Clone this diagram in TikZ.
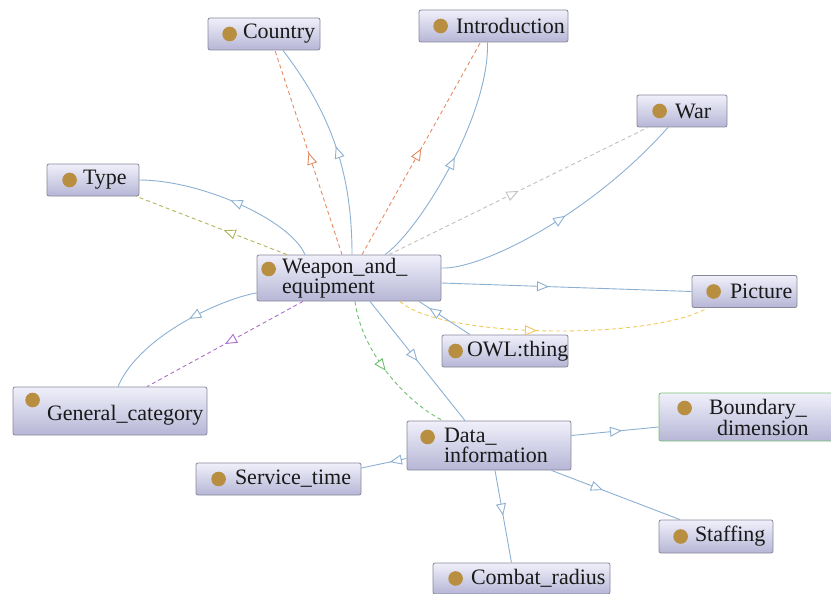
\documentclass[tikz,border=0pt]{standalone}
\usepackage{fontspec}
\setmainfont{Liberation Serif}
\usetikzlibrary{arrows.meta,decorations.markings}
\definecolor{eb}{RGB}{140,176,210}
\definecolor{eo}{RGB}{226,140,100}
\definecolor{egray}{RGB}{192,192,192}
\definecolor{eolive}{RGB}{180,180,90}
\definecolor{eyel}{RGB}{240,200,90}
\definecolor{epur}{RGB}{170,110,200}
\definecolor{egreen}{RGB}{110,190,110}
\definecolor{ntop}{RGB}{240,240,251}
\definecolor{nbot}{RGB}{182,182,214}
\definecolor{nborder}{RGB}{135,135,152}
\definecolor{gborder}{RGB}{120,192,120}
\definecolor{bul}{RGB}{184,143,64}
\begin{document}
\begin{tikzpicture}[x=1pt,y=-1pt,
  box/.style={draw=nborder, line width=0.8pt, rounded corners=2pt, top color=ntop, bottom color=nbot,
    inner sep=0pt, align=left, font=\rmfamily\fontsize{22}{20}\selectfont, text=black!90},
  gbox/.style={box, draw=gborder},
  edge/.style={line width=0.9pt},
  dsh/.style={dash pattern=on 4pt off 3pt},
  arr/.style={postaction={decorate,decoration={markings,
     mark=at position #1 with {\arrow{Triangle[fill=white,length=12pt,width=10pt,line width=0.9pt]}}}}},
  bullet/.style={fill=bul}
]
\useasboundingbox (0,0) rectangle (831,594);

% nodes
\node[box, text width=112pt, minimum height=32pt] (C) at (264,34) {\hspace*{35pt}Country};
\node[box, text width=149pt, minimum height=32pt] (I) at (493.5,26) {\hspace*{37pt}Introduction};
\node[box, text width=90pt, minimum height=32pt] (Wa) at (682,111) {\hspace*{38pt}War};
\node[box, text width=92pt, minimum height=32pt] (T) at (93,180) {\hspace*{36pt}Type};
\node[box, text width=184pt, minimum height=46pt] (W) at (349,278) {\hspace*{25pt}Weapon\_and\_\\\hspace*{25pt}equipment};
\node[box, text width=105pt, minimum height=32pt] (P) at (744.5,291.5) {\hspace*{38pt}Picture};
\node[box, text width=126pt, minimum height=32pt] (O) at (505,351) {\hspace*{25pt}OWL:thing};
\node[box, text width=194pt, minimum height=48pt, text height=23pt, text depth=5pt] (G) at (110,411) {\hspace*{34pt}General\_category};
\node[gbox, text width=175pt, minimum height=48pt] (B) at (746.5,417) {\hspace*{50pt}Boundary\_\\\hspace*{58pt}dimension};
\node[box, text width=164pt, minimum height=49pt] (D) at (489,445.5) {\hspace*{37pt}Data\_\\\hspace*{37pt}information};
\node[box, text width=165pt, minimum height=32pt] (S) at (278.5,479) {\hspace*{39pt}Service\_time};
\node[box, text width=114pt, minimum height=33pt] (St) at (716,536.5) {\hspace*{36pt}Staffing};
\node[box, text width=177pt, minimum height=31pt] (Cb) at (521.5,578.5) {\hspace*{38pt}Combat\_radius};

% bullets
\fill[bullet] ([xshift=22pt]C.west) circle[radius=7.3pt];
\fill[bullet] ([xshift=22pt]I.west) circle[radius=7.3pt];
\fill[bullet] ([xshift=23pt]Wa.west) circle[radius=7.3pt];
\fill[bullet] ([xshift=23pt]T.west) circle[radius=7.3pt];
\fill[bullet] ([xshift=12pt,yshift=9pt]W.west) circle[radius=7.3pt];
\fill[bullet] ([xshift=22pt]P.west) circle[radius=7.3pt];
\fill[bullet] ([xshift=14pt]O.west) circle[radius=7.3pt];
\fill[bullet] ([xshift=20pt,yshift=11pt]G.west) circle[radius=7.3pt];
\fill[bullet] ([xshift=26pt,yshift=9pt]B.west) circle[radius=7.3pt];
\fill[bullet] ([xshift=21pt,yshift=8.5pt]D.west) circle[radius=7.3pt];
\fill[bullet] ([xshift=23pt]S.west) circle[radius=7.3pt];
\fill[bullet] ([xshift=22pt]St.west) circle[radius=7.3pt];
\fill[bullet] ([xshift=23pt]Cb.west) circle[radius=7.3pt];

% edges from Weapon_and_equipment
\draw[edge, eb, arr=0.5] ([xshift=3pt]W.north) .. controls +(0,-75) and +(52,68) .. ([xshift=19pt]C.south);
\draw[edge, eo, dsh, arr=0.5] ([xshift=-7pt]W.north) -- ([xshift=11pt]C.south);
\draw[edge, eo, dsh, arr=0.5] ([xshift=13pt]W.north) -- ([xshift=-13pt]I.south);
\draw[edge, eb, arr=0.5] ([xshift=36pt]W.north) .. controls +(35,-25) and +(2,73) .. ([xshift=-6pt]I.south);
\draw[edge, egray, dsh, arr=0.5] ([xshift=40pt]W.north) -- ([xshift=-34pt]Wa.south);
\draw[edge, eb, arr=0.5] ([yshift=10pt]W.east) .. controls +(39,2) and +(-78,88) .. ([xshift=-14pt]Wa.south);
\draw[edge, eb, arr=0.5] ([xshift=-44pt]W.north) .. controls +(-15,-35) and +(61,0) .. (T.east);
\draw[edge, eolive, dsh, arr=0.42] ([xshift=-62pt]W.north) -- ([xshift=-3pt]T.south east);
\draw[edge, eb, arr=0.43] ([yshift=-5pt]W.east) -- (P.west);
\draw[edge, eyel, dsh, arr=0.45] ([xshift=51pt]W.south) .. controls +(40,37) and +(-57,33) .. ([xshift=-37pt]P.south);
\draw[edge, eb, arr=0.8] ([xshift=-35pt]O.north) -- ([xshift=70pt]W.south);
\draw[edge, eb, arr=0.42] ([yshift=-15pt]W.west) .. controls +(-32,5) and +(22,-52) .. ([xshift=8pt]G.north);
\draw[edge, epur, dsh, arr=0.5] ([xshift=-46pt]W.south) -- ([xshift=37pt]G.north);
\draw[edge, egreen, dsh, arr=0.5] ([xshift=6pt]W.south) .. controls +(7,54) and +(-33,-16) .. ([xshift=-46pt]D.north);
\draw[edge, eb, arr=0.5] ([xshift=21pt]W.south) -- ([xshift=-24pt]D.north);

% edges from Data_information
\draw[edge, eb, arr=0.58] ([yshift=10pt]D.east) -- ([yshift=-10pt]B.west);
\draw[edge, eb, arr=0.37] ([yshift=-13pt]D.west) -- ([yshift=11pt]S.east);
\draw[edge, eb, arr=0.49] ([xshift=6pt]D.south) -- ([xshift=-10pt]Cb.north);
\draw[edge, eb, arr=0.4] ([xshift=-20pt]D.south east) -- ([xshift=-36pt]St.north);
\end{tikzpicture}
\end{document}
